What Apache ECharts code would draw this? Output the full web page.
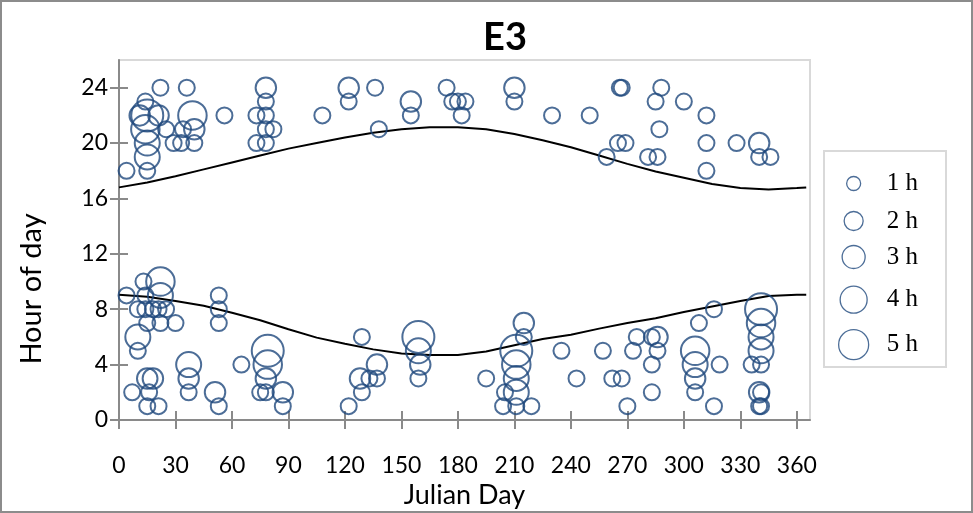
<!DOCTYPE html>
<html>
<head>
<meta charset="utf-8">
<script src="https://cdn.jsdelivr.net/npm/echarts@6/dist/echarts.min.js"></script>
<style>
html,body{margin:0;padding:0;background:#fff;}
#c{width:973px;height:513px;}
</style>
</head>
<body>
<div id="c"></div>
<script>
// ---- data ----
var title = 'E3';
var xTicks = [0, 30, 60, 90, 120, 150, 180, 210, 240, 270, 300, 330, 360];
var yTicks = [0, 4, 8, 12, 16, 20, 24];
var durationNames = ['1 h', '2 h', '3 h', '4 h', '5 h'];

// bubbles [julian day, hour of day] grouped by duration
var dur1h = [
  [4,18],[22,24],[36,24],[14,23],[15,18],[25,21],[34,21],[29,20],[33,20],[40,20],[56,22],
  [78,23],[73,22],[78,22],[78,21],[82,21],[73,20],[78,20],[108,22],[122,23],[136,24],
  [155,22],[138,21],[174,24],[177,23],[180,23],[184,23],[182,22],[210,23],[230,22],
  [266,24],[267,24],[288,24],[285,23],[300,23],[250,22],[312,22],[287,21],[265,20],[269,20],
  [312,20],[328,20],[259,19],[281,19],[286,19],[346,19],[340,19],[312,18],
  [4,9],[13,10],[14,9],[10,5],[7,2],[16,2],[15,1],[21,1],[15,7],[22,7],[30,7],
  [10,8],[14,8],[18,8],[21,8],[25,8],[53,9],[53,8],[53,7],[53,1],[37,2],[65,4],
  [75,2],[78,2],[87,1],[122,1],[129,6],[129,2],[133,3],[137,3],[159,3],[195,3],
  [215,6],[205,2],[204,1],[211,1],[219,1],[235,5],[243,3],[257,5],[262,3],[267,3],[270,1],
  [275,6],[273,5],[283,6],[286,5],[283,4],[283,2],[308,7],[316,8],[306,2],[319,4],[316,1],
  [336,4],[341,4],[340,1],[341,1],[341,2]
];
var dur2h = [
  [11,22],[21,22],[40,21],[78,24],[122,24],[155,23],[210,24],[340,20],
  [15,3],[18,3],[37,3],[51,2],[78,3],[87,2],[137,4],[128,3],[160,4],[215,7],[286,6],[306,3],[340,2]
];
var dur3h = [
  [15,20],[15,19],
  [22,9],[10,6],[37,4],[159,5],[211,3],[211,2],[306,4],[341,6],[341,5]
];
var dur4h = [
  [14,21],[39,22],
  [22,10],[79,4],[211,4],[306,5],[341,7]
];
var dur5h = [
  [15,22],
  [79,5],[159,6],[211,5],[341,8]
];

// sunrise / sunset curves [julian day, hour]
var sunsetLine = [
  [0,16.8],[15,17.15],[30,17.6],[45,18.1],[60,18.6],[75,19.1],[90,19.6],[105,20.0],[120,20.4],
  [135,20.75],[150,21.0],[165,21.15],[180,21.15],[195,21.0],[210,20.65],[225,20.2],[240,19.7],
  [255,19.1],[270,18.5],[285,17.95],[300,17.5],[315,17.05],[330,16.75],[345,16.65],[360,16.75],[365,16.8]
];
var sunriseLine = [
  [0,9.05],[15,8.9],[30,8.6],[45,8.25],[60,7.75],[75,7.2],[90,6.55],[105,5.95],[120,5.5],
  [135,5.1],[150,4.8],[165,4.7],[180,4.7],[195,4.95],[210,5.4],[225,5.85],[240,6.15],
  [255,6.6],[270,7.0],[285,7.35],[300,7.8],[315,8.2],[330,8.6],[345,8.95],[360,9.05],[365,9.05]
];

// ---- styles ----
var bubbleColor = '#1F497D';
var bubbleSizes = [16, 20.5, 25, 28.5, 32];
var legendSizes = [14, 19, 23, 27, 30];
var legendCentersY = [178, 218, 256, 299, 344];
var axisGray = '#8a8a8a';
var font = 'Lato, "Liberation Sans", sans-serif';

var bubbleData = [dur1h, dur2h, dur3h, dur4h, dur5h];

var series = [];
bubbleData.forEach(function (d, i) {
  series.push({
    name: durationNames[i],
    type: 'scatter',
    data: d,
    symbol: 'circle',
    symbolSize: bubbleSizes[i],
    itemStyle: { color: 'rgba(0,0,0,0)', borderColor: bubbleColor, borderWidth: 2 },
    emphasis: { disabled: true },
    z: 3
  });
});
[sunsetLine, sunriseLine].forEach(function (d, i) {
  series.push({
    name: i === 0 ? 'sunset' : 'sunrise',
    type: 'line',
    data: d,
    showSymbol: false,
    symbol: 'none',
    smooth: false,
    lineStyle: { color: '#000', width: 2 },
    z: 2
  });
});

var legends = durationNames.map(function (n, i) {
  var s = legendSizes[i];
  return {
    data: [n],
    left: 853 - s / 2,
    top: legendCentersY[i] - s / 2,
    padding: 0,
    itemWidth: s,
    itemHeight: s,
    icon: 'circle',
    itemStyle: { color: 'rgba(0,0,0,0)', borderColor: bubbleColor, borderWidth: 1.3 },
    textStyle: { fontFamily: '"Liberation Serif", serif', fontSize: 25, color: '#000', padding: [12, 0, 0, 28 - s / 2] },
    selectedMode: false
  };
});

var chart = echarts.init(document.getElementById('c'), null, { renderer: 'canvas' });
chart.setOption({
  animation: false,
  backgroundColor: '#fff',
  title: {
    text: title,
    left: 500, top: 14, textAlign: 'center',
    textStyle: { fontFamily: font, fontWeight: 'bold', fontSize: 38, color: '#000' }
  },
  legend: legends,
  grid: { left: 119, right: 163, top: 60, bottom: 93, show: true, borderColor: '#d9d9d9', borderWidth: 2,
          containLabel: false, outerBoundsMode: 'none' },
  xAxis: [{
    type: 'value', min: 0, max: 367, interval: 30,
    name: 'Julian Day', nameLocation: 'middle', nameGap: 59,
    nameTextStyle: { fontFamily: font, fontSize: 27, color: '#000' },
    axisLine: { show: true, lineStyle: { color: axisGray, width: 2 } },
    axisTick: { show: true, length: 9, lineStyle: { color: axisGray, width: 2 }, customValues: xTicks },
    axisLabel: { fontFamily: font, fontSize: 23, color: '#000', margin: 34, customValues: xTicks },
    splitLine: { show: false }
  }, {
    type: 'value', min: 0, max: 367, interval: 30, position: 'bottom',
    axisLine: { show: false },
    axisTick: { show: true, inside: true, length: 9, lineStyle: { color: axisGray, width: 2 }, customValues: xTicks },
    axisLabel: { show: false },
    splitLine: { show: false }
  }],
  yAxis: [{
    type: 'value', min: 0, max: 26, interval: 4,
    name: 'Hour of day', nameLocation: 'middle', nameGap: 73, nameRotate: 90,
    nameTextStyle: { fontFamily: font, fontSize: 29, color: '#000', padding: [0, 98, 0, 0] },
    axisLine: { show: true, lineStyle: { color: axisGray, width: 2 } },
    axisTick: { show: true, length: 9, lineStyle: { color: axisGray, width: 2 }, customValues: yTicks },
    axisLabel: { fontFamily: font, fontSize: 23, color: '#000', margin: 11, customValues: yTicks },
    splitLine: { show: false }
  }, {
    type: 'value', min: 0, max: 26, interval: 4, position: 'left',
    axisLine: { show: false },
    axisTick: { show: true, inside: true, length: 9, lineStyle: { color: axisGray, width: 2 }, customValues: yTicks },
    axisLabel: { show: false },
    splitLine: { show: false }
  }],
  graphic: [{
    type: 'rect', shape: { x: 1, y: 1, width: 971, height: 511 },
    style: { fill: 'none', stroke: '#8c8c8c', lineWidth: 2 }, silent: true
  }, {
    type: 'rect', shape: { x: 824, y: 151, width: 122, height: 216 },
    style: { fill: 'none', stroke: '#d9d9d9', lineWidth: 2 }, silent: true, z: -1
  }],
  series: series
});
</script>
</body>
</html>
